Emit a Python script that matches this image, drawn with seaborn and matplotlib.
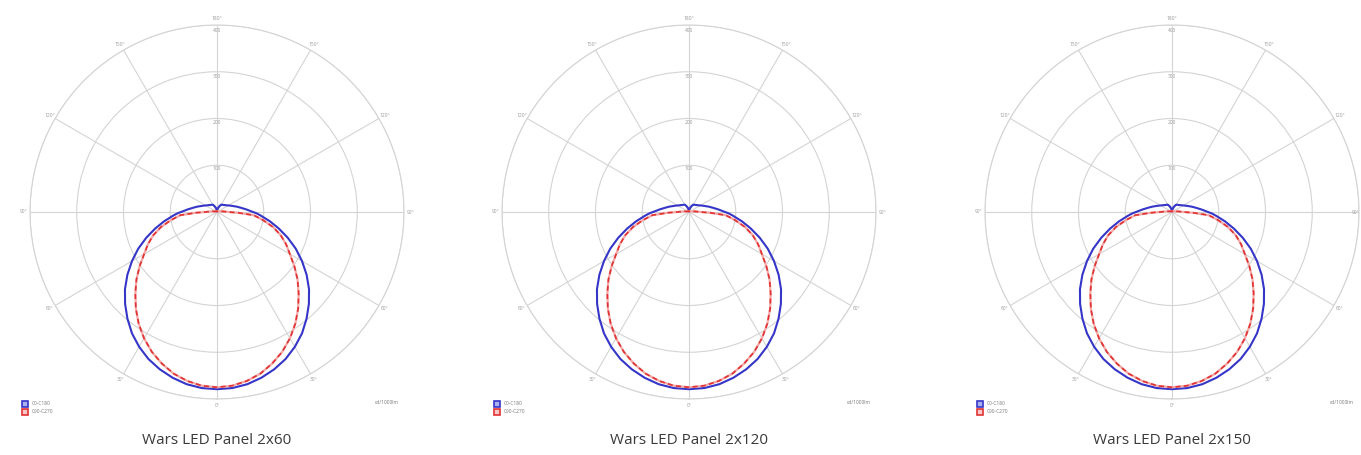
import numpy as np
import pandas as pd
import matplotlib.pyplot as plt
import seaborn as sns
from matplotlib.lines import Line2D

sns.set_style("white")
plt.rcParams['font.family'] = ['Open Sans', 'DejaVu Sans']

# angle from nadir (deg) and intensity (cd/klm), same for the three panels
gamma = [0, 5, 10, 15, 20, 25, 30, 35, 40, 45, 50, 55, 60, 65, 70, 75, 80, 85, 88, 90,
         95, 100, 105, 110, 115, 120, 125, 130, 135, 140, 145, 150, 155, 160, 165, 170, 175, 180]
c0_c180 = [379, 378, 374, 367, 358, 347, 333, 317, 298, 278, 257, 234, 210, 186, 161, 137, 115, 95, 85, 77,
           63, 52, 44, 37, 32, 28, 25, 23, 21, 20, 19, 18, 15, 12, 9, 6, 3, 1]
c90_c270 = [375, 373, 367, 358, 345, 330, 312, 292, 270, 247, 225, 202, 180, 163, 145, 124, 100, 79, 45, 25,
            14, 8, 5, 4, 3, 3, 2, 2, 2, 2, 2, 2, 2, 2, 2, 2, 2, 2]

titles = ["Wars LED Panel 2x60", "Wars LED Panel 2x120", "Wars LED Panel 2x150"]
centers_px = [217, 689, 1172]
ring_values = [100, 200, 300, 400]
legend_names = ["C0-C180", "C90-C270"]

W, H = 1361, 455
RADIUS = 187
CY = 212

blue = "#3535c8"
red = "#e03232"
grid_c = "#d4d4d4"


def full_curve(vals):
    g = np.array(gamma, dtype=float)
    v = np.array(vals, dtype=float)
    th = np.concatenate([-g[::-1], g[1:]])
    r = np.concatenate([v[::-1], v[1:]])
    return pd.DataFrame({"theta": np.deg2rad(th), "r": r})


fig = plt.figure(figsize=(W / 100, H / 100), dpi=100)

for i, (cx, title) in enumerate(zip(centers_px, titles)):
    left = (cx - RADIUS) / W
    bottom = (H - CY - RADIUS) / H
    ax = fig.add_axes([left, bottom, 2 * RADIUS / W, 2 * RADIUS / H], projection='polar')
    ax.set_theta_zero_location('S')
    ax.set_ylim(0, ring_values[-1])

    d1 = full_curve(c0_c180)
    d2 = full_curve(c90_c270)
    sns.lineplot(data=d1, x="theta", y="r", ax=ax, color=blue, lw=1.5, sort=False, estimator=None)
    sns.lineplot(data=d2, x="theta", y="r", ax=ax, color="#f4a8a8", lw=1.6, sort=False, estimator=None)
    sns.lineplot(data=d2, x="theta", y="r", ax=ax, color=red, lw=1.2, sort=False, estimator=None,
                 dashes=False, linestyle=(0, (3, 2)))

    ax.set_xlabel("")
    ax.set_ylabel("")
    angles = list(range(0, 360, 30))
    ax.set_thetagrids(angles, [""] * len(angles))
    rmax = ring_values[-1]
    for a in angles:
        lab = f"{a if a <= 180 else 360 - a}°"
        ha = 'center'
        r_lab = rmax * 1.035
        if i == len(titles) - 1 and a == 90:
            # last panel sits against the right edge
            ha = 'right'
            r_lab = rmax * 1.0
        ax.text(np.deg2rad(a), r_lab, lab, fontsize=3.5, color="#999999",
                ha=ha, va='center', clip_on=False)
    ax.set_rgrids(ring_values, [""] * len(ring_values))
    for v in ring_values:
        ax.text(np.pi, v * 0.985, str(v), fontsize=3.5, color="#999999", ha='center', va='top')
    ax.grid(True, color=grid_c, lw=0.8)
    ax.spines['polar'].set_color(grid_c)
    ax.spines['polar'].set_linewidth(0.8)

    handles = [
        Line2D([], [], marker='s', ls='none', markersize=5, markerfacecolor="#aab0f0",
               markeredgecolor=blue, markeredgewidth=1.2),
        Line2D([], [], marker='s', ls='none', markersize=5, markerfacecolor="#f8c8c8",
               markeredgecolor=red, markeredgewidth=1.2),
    ]
    ax.legend(handles, legend_names, loc='lower left', bbox_to_anchor=(-0.035, -0.05),
              frameon=False, fontsize=3.5, handletextpad=0.4, labelspacing=0.6,
              borderpad=0.2, labelcolor="#777777")
    ax.text(0.955, -0.01, "cd/1000lm", transform=ax.transAxes, fontsize=3.5,
            color="#777777", ha='center', va='center')

    fig.text(cx / W, 1 - 440 / H, title, ha='center', va='center', fontsize=11, color="#3a3a3a")

plt.savefig("out.png", dpi=100)
plt.close()
